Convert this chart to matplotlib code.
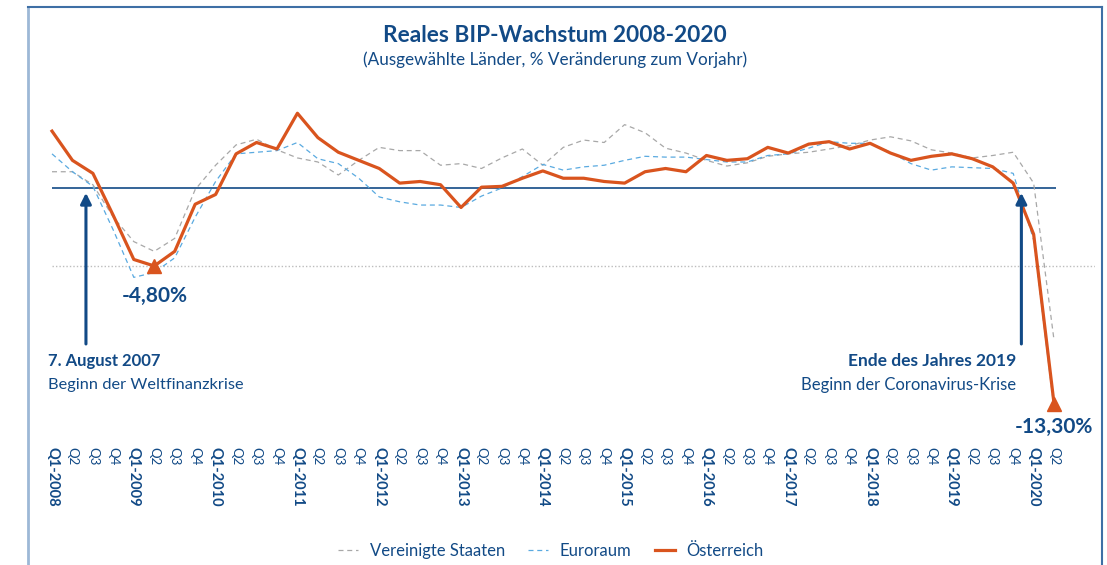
import matplotlib
matplotlib.use('Agg')
import matplotlib.pyplot as plt
from matplotlib.lines import Line2D

plt.rcParams['font.family'] = ['Lato', 'DejaVu Sans']

# Quarterly real GDP growth, % change on previous year (Q1-2008 .. Q2-2020)
years = list(range(2008, 2021))
quarter_labels = []
for y in years:
    quarter_labels += ['Q1-' + str(y), 'Q2', 'Q3', 'Q4']
quarter_labels = quarter_labels[:50]

austria = [3.5, 1.7, 0.9, -1.7, -4.4, -4.8, -3.9, -1.0, -0.4, 2.1, 2.8, 2.4,
           4.6, 3.1, 2.2, 1.7, 1.2, 0.3, 0.4, 0.2, -1.2, 0.05, 0.1, 0.6,
           1.05, 0.6, 0.6, 0.4, 0.3, 1.0, 1.2, 1.0, 2.0, 1.7, 1.8, 2.5,
           2.15, 2.7, 2.85, 2.4, 2.75, 2.15, 1.7, 1.95, 2.1, 1.8, 1.3, 0.3,
           -2.85, -13.3]
euro = [2.1, 1.0, 0.1, -2.6, -5.5, -5.2, -4.3, -1.8, 0.4, 2.1, 2.2, 2.3,
        2.8, 1.8, 1.5, 0.6, -0.55, -0.85, -1.05, -1.05, -1.2, -0.5, 0.0, 0.7,
        1.45, 1.1, 1.3, 1.4, 1.7, 1.95, 1.9, 1.9, 1.75, 1.6, 1.6, 2.0,
        2.1, 2.45, 2.85, 2.75, 2.75, 2.2, 1.5, 1.1, 1.3, 1.25, 1.2, 0.9,
        -3.2, -13.6]
usa = [1.0, 1.0, 0.2, -1.8, -3.3, -3.9, -3.1, -0.1, 1.4, 2.65, 3.0, 2.35,
       1.85, 1.6, 0.8, 1.7, 2.5, 2.3, 2.3, 1.4, 1.5, 1.2, 1.85, 2.4,
       1.4, 2.5, 2.95, 2.8, 3.9, 3.4, 2.45, 2.15, 1.7, 1.35, 1.55, 1.95,
       2.1, 2.2, 2.4, 2.6, 2.95, 3.15, 2.9, 2.35, 2.15, 1.85, 2.0, 2.2,
       0.3, -9.4]

crisis_2008 = -4.8
crisis_2020 = -13.3

navy = '#124a86'
orange = '#d9541e'
blue = '#5aaae0'
grey = '#a8a8a8'

x = list(range(len(austria)))

fig = plt.figure(figsize=(11.07, 5.65), dpi=100)
ax = fig.add_axes([40 / 1107, 125 / 565, 1055 / 1107, 340 / 565])
ax.set_xlim(-0.587, 51.0)
ax.set_ylim(-15.51, 5.415)

ax.hlines(crisis_2008, 0, 51, colors='#bdbdbd', linestyles=(0, (1, 1.5)), lw=1)
ax.hlines(0, 0, 49.1, colors=navy, lw=1.2)

ax.plot(x, usa, color=grey, lw=0.9, ls=(0, (4, 3)), label='Vereinigte Staaten')
ax.plot(x, euro, color=blue, lw=0.9, ls=(0, (4, 3)), label='Euroraum')
ax.plot(x, austria, color=orange, lw=2.3, label='Österreich')

ax.plot([5, 49], [crisis_2008, crisis_2020], ls='none', marker='^',
        ms=10, color=orange, zorder=5)

# arrows marking the start of both crises
for xa in [1.66, 47.4]:
    ax.annotate('', xy=(xa, -0.3), xytext=(xa, -9.6),
                arrowprops=dict(arrowstyle='-|>', color=navy, lw=2.2,
                                mutation_scale=16, shrinkA=0, shrinkB=0))

ax.text(5.04, -6.65, '-4,80%', color=navy, fontsize=15, fontweight='bold',
        ha='center', va='center')
ax.text(50.9, -14.7, '-13,30%', color=navy, fontsize=15, fontweight='bold',
        ha='right', va='center', clip_on=False)
ax.text(-0.2, -10.65, '7. August 2007', color=navy, fontsize=12,
        fontweight='bold', ha='left', va='center')
ax.text(-0.2, -12.12, 'Beginn der Weltfinanzkrise', color=navy, fontsize=11.8,
        ha='left', va='center')
ax.text(47.14, -10.65, 'Ende des Jahres 2019', color=navy, fontsize=12.5,
        fontweight='bold', ha='right', va='center')
ax.text(47.14, -12.12, 'Beginn der Coronavirus-Krise', color=navy,
        fontsize=12, ha='right', va='center')

ax.set_xticks(x)
ax.set_xticklabels(quarter_labels, rotation=270, fontsize=9.5, color=navy)
for lab in ax.get_xticklabels():
    if lab.get_text().startswith('Q1'):
        lab.set_fontweight('bold')
        lab.set_fontsize(10.5)
ax.tick_params(axis='x', length=0, pad=5)
ax.set_yticks([])
for s in ax.spines.values():
    s.set_visible(False)

fig.text(555 / 1107, 1 - 36 / 565, 'Reales BIP-Wachstum 2008-2020',
         color=navy, fontsize=16.3, fontweight='bold', ha='center', va='center')
fig.text(555 / 1107, 1 - 60 / 565,
         '(Ausgewählte Länder, % Veränderung zum Vorjahr)',
         color=navy, fontsize=12.3, ha='center', va='center')

leg = fig.legend(loc='center', bbox_to_anchor=(551 / 1107, 1 - 551 / 565),
                 ncol=3, frameon=False, fontsize=12, handlelength=1.2,
                 columnspacing=1.4, handletextpad=0.7)
for t in leg.get_texts():
    t.set_color(navy)

# frame around the chart
ytop = 1 - 7 / 565
fig.add_artist(Line2D([28 / 1107, 28 / 1107], [0, ytop], color='#9db8d6', lw=2))
fig.add_artist(Line2D([28 / 1107, 1102 / 1107], [ytop, ytop], color='#3e6fa5', lw=1.5))
fig.add_artist(Line2D([1102 / 1107, 1102 / 1107], [0, ytop], color='#3e6fa5', lw=1.5))

fig.savefig('out.png', dpi=100)
